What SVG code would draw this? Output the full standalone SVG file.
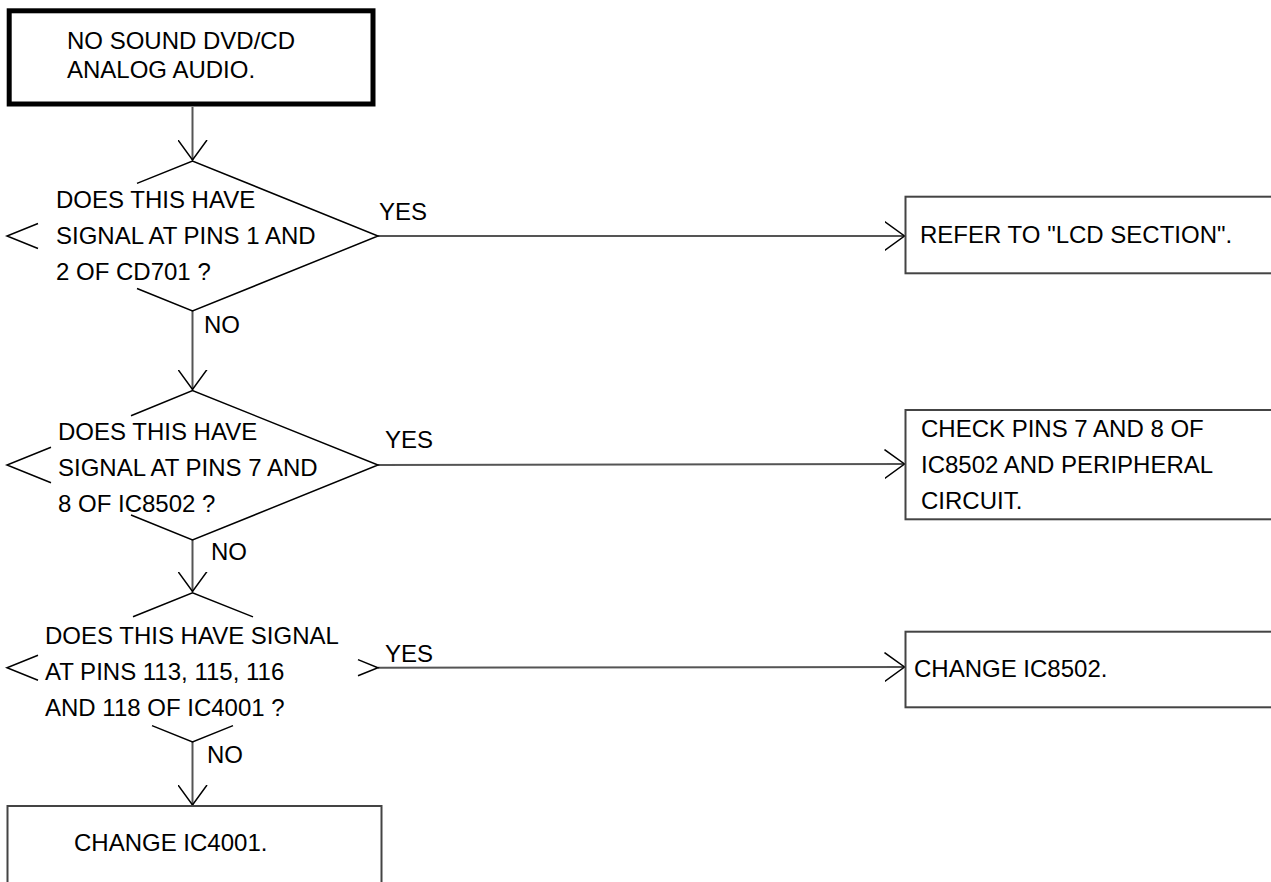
<svg xmlns="http://www.w3.org/2000/svg" width="1271" height="882" viewBox="0 0 1271 882">
<style>
text{font-family:"Liberation Sans",Arial,Helvetica,sans-serif;font-size:24px;fill:#000}
.box{fill:#fff;stroke:#444;stroke-width:2}
.start{fill:#fff;stroke:#000;stroke-width:5}
.dia{fill:none;stroke:#000;stroke-width:1.5}
.conn{fill:none;stroke:#555;stroke-width:2}
</style>
<defs>
<marker id="arr" viewBox="0 0 22 30" refX="20" refY="15" markerWidth="22" markerHeight="30" markerUnits="userSpaceOnUse" orient="auto">
<path d="M0,0.5 L20,15 L0,29.5" fill="none" stroke="#000" stroke-width="1.5"/>
</marker>
</defs>
<rect width="1271" height="882" fill="#fff"/>

<g id="connectors">
<line class="conn" x1="192.5" y1="107" x2="192.5" y2="160" marker-end="url(#arr)"/>
<line class="conn" x1="192.5" y1="311" x2="192.5" y2="389.5" marker-end="url(#arr)"/>
<line class="conn" x1="192.5" y1="540" x2="192.5" y2="591.5" marker-end="url(#arr)"/>
<line class="conn" x1="192.5" y1="742" x2="192.5" y2="805" marker-end="url(#arr)"/>
<line class="conn" x1="378" y1="236" x2="904.5" y2="236" marker-end="url(#arr)"/>
<line class="conn" x1="378" y1="465" x2="904.5" y2="464" marker-end="url(#arr)"/>
<line class="conn" x1="378" y1="667.7" x2="904.5" y2="667" marker-end="url(#arr)"/>
<text x="379" y="220">YES</text>
<text x="385" y="448">YES</text>
<text x="385" y="662">YES</text>
<text x="204" y="333">NO</text>
<text x="211" y="560">NO</text>
<text x="207" y="763">NO</text>
</g>

<g id="start">
<rect class="start" x="9.2" y="10.8" width="363.8" height="93.2"/>
<text x="67" y="49">NO SOUND DVD/CD</text>
<text x="67" y="78">ANALOG AUDIO.</text>
</g>

<g id="decision1">
<polyline class="dia" points="137,183.4 192.5,161 378,236 192.5,311 137,288.5"/>
<polyline class="dia" points="38,223.5 7,236 38,248.5"/>
<text x="56" y="208">DOES THIS HAVE</text>
<text x="56" y="244">SIGNAL AT PINS 1 AND</text>
<text x="56" y="280">2 OF CD701 ?</text>
</g>

<g id="decision2">
<polyline class="dia" points="131,415.7 192.5,390.5 378,465 192.5,540 131,515"/>
<polyline class="dia" points="51,447.3 7,465 51,482.7"/>
<text x="58" y="440">DOES THIS HAVE</text>
<text x="58" y="476">SIGNAL AT PINS 7 AND</text>
<text x="58" y="512">8 OF IC8502 ?</text>
</g>

<g id="decision3">
<polyline class="dia" points="133,616.7 192.5,592.7 253,616.9"/>
<polyline class="dia" points="152,725.6 192.5,742 233,725.6"/>
<polyline class="dia" points="38,655.2 7,667.7 38,680.2"/>
<polyline class="dia" points="358,659.6 378,667.7 358,675.8"/>
<text x="45" y="644">DOES THIS HAVE SIGNAL</text>
<text x="45" y="680">AT PINS 113, 115, 116</text>
<text x="45" y="716">AND 118 OF IC4001 ?</text>
</g>

<g id="lcd">
<rect class="box" x="905.5" y="196.7" width="380" height="76.6"/>
<text x="920" y="243">REFER TO "LCD SECTION".</text>
</g>

<g id="check8502">
<rect class="box" x="905.5" y="410" width="380" height="109.3"/>
<text x="921" y="437">CHECK PINS 7 AND 8 OF</text>
<text x="921" y="473">IC8502 AND PERIPHERAL</text>
<text x="921" y="509">CIRCUIT.</text>
</g>

<g id="change8502">
<rect class="box" x="905.5" y="631.7" width="380" height="75.6"/>
<text x="914" y="677">CHANGE IC8502.</text>
</g>

<g id="change4001">
<rect class="box" x="7.5" y="806" width="374" height="100"/>
<text x="74" y="851">CHANGE IC4001.</text>
</g>
</svg>
